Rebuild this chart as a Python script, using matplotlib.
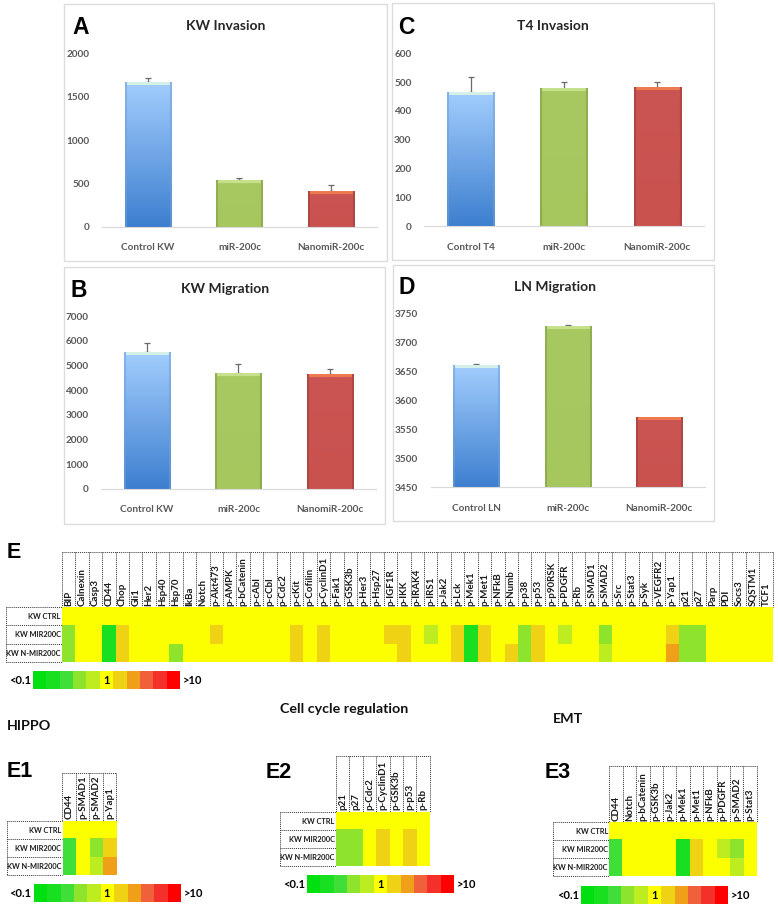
import matplotlib
matplotlib.use("Agg")
import matplotlib.pyplot as plt
import numpy as np
from matplotlib.colors import ListedColormap, to_rgb
from matplotlib.patches import Rectangle

W, H = 778, 905

bar_groups = ["miR-200c", "NanomiR-200c"]

kw_inv = [1665, 540, 415]
kw_inv_top = [1720, 560, 480]
t4_inv = [465, 477, 480]
t4_inv_top = [517, 502, 499]
kw_mig = [5550, 4680, 4640]
kw_mig_top = [5890, 5070, 4840]
ln_mig = [3661, 3729, 3570]
ln_mig_top = [3662.5, 3730.5, 3570.5]

all_proteins = ["BIP", "Calnexin", "Casp3", "CD44", "Chop", "Gli1", "Her2", "Hsp40", "Hsp70", "IkBa",
                "Notch", "p-Akt473", "p-AMPK", "p-bCatenin", "p-cAbl", "p-cCbl", "p-Cdc2", "p-cKit",
                "p-Cofilin", "p-CyclinD1", "p-Fak1", "p-GSK3b", "p-Her3", "p-Hsp27", "p-IGF1R", "p-IKK",
                "p-IRAK4", "p-IRS1", "p-Jak2", "p-Lck", "p-Mek1", "p-Met1", "p-NFkB", "p-Numb", "p-p38",
                "p-p53", "p-p90RSK", "p-PDGFR", "p-Rb", "p-SMAD1", "p-SMAD2", "p-Src", "p-Stat3", "p-Syk",
                "p-VEGFR2", "p-Yap1", "p21", "p27", "Parp", "PDI", "Socs3", "SQSTM1", "TCF1"]
conditions = ["KW CTRL", "KW MIR200C", "KW N-MIR200C"]

# colour bin of each cell, -5 (<0.1) .. 0 (1) .. 5 (>10)
all_ctrl = [0] * 53
all_mir = [-2, 0, 0, -4, 1, 0, 0, 0, 0, 0, 0, 1, 0, 0, 0, 0, 0, 1, 0, 1, 0, 0, 0, 0, 1, 1,
           0, -1, 0, 1, -4, 1, 0, 0, -2, 1, 0, -1, 0, 0, -2, 0, 0, 0, 0, 1, -2, -2, 0, 0, 0, 0, 0]
all_nmir = [-2, 0, 0, -4, 1, 0, 0, 0, -2, 0, 0, 0, 0, 0, 0, 0, 0, 1, 0, 1, 0, 0, 0, 0, 0, 1,
            0, 0, 0, 1, -4, 1, 0, 1, -2, 1, 0, 0, 0, 0, -1, 0, 0, 0, 0, 2, -2, -2, 0, 0, 0, 0, 0]

hippo_proteins = ["CD44", "p-SMAD1", "p-SMAD2", "p-Yap1"]
hippo_ctrl = [0, 0, 0, 0]
hippo_mir = [-3, 0, -2, 1]
hippo_nmir = [-3, 0, -1, 2]

cycle_proteins = ["p21", "p27", "p-Cdc2", "p-CyclinD1", "p-GSK3b", "p-p53", "p-Rb"]
cycle_ctrl = [0, 0, 0, 0, 0, 0, 0]
cycle_mir = [-2, -2, 0, 1, 0, 1, 0]
cycle_nmir = [-2, -2, 0, 1, 0, 1, 0]

emt_proteins = ["CD44", "Notch", "p-bCatenin", "p-GSK3b", "p-Jak2", "p-Mek1", "p-Met1", "p-NFkB",
                "p-PDGFR", "p-SMAD2", "p-Stat3"]
emt_ctrl = [0] * 11
emt_mir = [-3, 0, 0, 0, 0, -4, 1, 0, -1, -2, 0]
emt_nmir = [-3, 0, 0, 0, 0, -4, 1, 0, 0, -1, 0]

scale_bins = [-5, -4, -3, -2, -1, 0, 1, 2, 3, 4, 5]

cmap = ListedColormap(["#00e010", "#18e020", "#40de38", "#8ee42c", "#bdec20", "#fbff00",
                       "#f0d214", "#f0a018", "#f0603a", "#f4302a", "#ff0000"])

NARROW = ["Lato", "DejaVu Sans"]
CHART = ["Lato", "DejaVu Sans"]
LETTER = ["Liberation Sans", "DejaVu Sans"]

fig = plt.figure(figsize=(W / 100, H / 100), dpi=100, facecolor="white")

# pixel canvas for frames, panel letters and headings
bg = fig.add_axes([0, 0, 1, 1])
bg.set_xlim(0, W)
bg.set_ylim(H, 0)
bg.axis("off")


def axes_px(x0, y0, x1, y1):
    return fig.add_axes([x0 / W, 1 - y1 / H, (x1 - x0) / W, (y1 - y0) / H], facecolor="none")


def bevel_bar(ax, patch, top, bottom, cap, edge):
    # one image per bar: vertical gradient, darker sides, light strip on top
    x0, x1 = patch.get_x(), patch.get_x() + patch.get_width()
    y1 = patch.get_height() + patch.get_y()
    y0 = patch.get_y()
    ymin, ymax = ax.get_ylim()
    px_h = max(int(173 * (y1 - y0) / (ymax - ymin)), 4)
    px_w = 46
    t = np.linspace(0, 1, px_h)[:, None, None]
    img = (1 - t) * np.array(to_rgb(top)) + t * np.array(to_rgb(bottom))
    img = np.repeat(img, px_w, axis=1)
    for i in range(2):
        img[:, i] = img[:, i] * 0.45 + np.array(to_rgb(edge)) * 0.55
        img[:, -1 - i] = img[:, -1 - i] * 0.45 + np.array(to_rgb(edge)) * 0.55
    img[0:3, 2:-2] = to_rgb(cap)
    ax.imshow(img, extent=(x0, x1, y0, y1), aspect="auto", zorder=2, interpolation="bilinear")


def bar_panel(frame, box, letter, letter_xy, title, title_xy, first, vals, tops, ylim, step):
    fx0, fy0, fx1, fy1 = frame
    bg.add_patch(Rectangle((fx0, fy0), fx1 - fx0, fy1 - fy0, fc="white", ec="#dcdcdc", lw=1))
    bg.text(letter_xy[0], letter_xy[1], letter, fontsize=16.5, fontweight="bold", color="black",
            family=LETTER, ha="left", va="center")
    bg.text(title_xy[0], title_xy[1], title, fontsize=10, fontweight="bold", color="#262626",
            family=NARROW, ha="center", va="center")

    ax = axes_px(*box)
    names = [first] + bar_groups
    x = np.arange(3)
    ax.set_xlim(-0.5, 2.5)
    ax.set_ylim(*ylim)
    bars = ax.bar(x, np.array(vals) - ylim[0], bottom=ylim[0], width=0.505, color="none")
    styles = [("#a2cdfd", "#3d7fcf", "#d5f0e8", "#6f9fd8"),
              ("#a8c962", "#a6c65e", "#c6e08c", "#7d9a42"),
              ("#cb5552", "#c9524f", "#ee7a50", "#9c3c3a")]
    for b, s in zip(bars, styles):
        bevel_bar(ax, b, *s)
    ax.set_xlim(-0.5, 2.5)
    ax.set_ylim(*ylim)
    # upper whisker only, the lower cap stays hidden behind the bar
    ax.errorbar(x, vals, yerr=[np.zeros(3), np.array(tops) - np.array(vals)], fmt="none",
                ecolor="#6a6a6a", elinewidth=0.9, capsize=2, capthick=0.9, zorder=1)
    ax.set_xticks(x, names)
    ax.set_yticks(np.arange(ylim[0], ylim[1] + 1, step))
    ax.tick_params(length=0, labelsize=7.2, labelcolor="#595959", pad=9)
    ax.tick_params(axis="x", pad=12)
    for lab in ax.get_xticklabels() + ax.get_yticklabels():
        lab.set_family(CHART)
        lab.set_fontweight("bold")
    for side in ["top", "right", "left"]:
        ax.spines[side].set_visible(False)
    ax.spines["bottom"].set_color("#d9d9d9")
    return ax


def heat_panel(x0, y_box, y0, x_row, names, rows, font=7):
    n = len(names)
    cw = 13.41
    rh = 18.1
    x1 = x0 + n * cw
    y1 = y0 + 3 * rh
    ax = axes_px(x0, y0, x1, y1)
    ax.imshow(np.array(rows), cmap=cmap, vmin=-5.5, vmax=5.5, aspect="auto", interpolation="nearest")
    ax.xaxis.tick_top()
    ax.set_xticks(np.arange(n), names, rotation=90, fontsize=font, fontweight="bold", family=NARROW, color="#1a1a1a")
    ax.set_yticks(np.arange(3), conditions, fontsize=5.3, fontweight="bold", family=NARROW, color="#1a1a1a")
    ax.tick_params(length=0, pad=1)
    for s in ax.spines.values():
        s.set_visible(False)
    dots = dict(color="#333333", lw=0.7, ls=(0, (1, 1)))
    for i in range(n + 1):
        bg.plot([x0 + i * cw] * 2, [y_box, y0], **dots)
    bg.plot([x0, x1], [y_box, y_box], **dots)
    for j in range(4):
        bg.plot([x_row, x0], [y0 + j * rh] * 2, **dots)
    bg.plot([x_row, x_row], [y0, y1], **dots)


def scale_bar(x0, y0):
    x1, y1 = x0 + 147, y0 + 18
    ax = axes_px(x0, y0, x1, y1)
    ax.imshow([scale_bins], cmap=cmap, vmin=-5.5, vmax=5.5, aspect="auto", interpolation="nearest")
    ax.set_xticks([])
    ax.set_yticks([])
    for s in ax.spines.values():
        s.set_visible(False)
    ax.text(scale_bins.index(0), 0, "1", ha="center", va="center", fontsize=8, fontweight="bold", family=NARROW)
    bg.text(x0 - 2, y0 + 9.5, "<0.1", ha="right", va="center", fontsize=8, fontweight="bold", family=NARROW)
    bg.text(x1 + 3, y0 + 9.5, ">10", ha="left", va="center", fontsize=8, fontweight="bold", family=NARROW)


bar_panel((64, 4, 387, 261), (102, 53.3, 377, 226.7), "A", (72, 27), "KW Invasion", (225.5, 26),
          "Control KW", kw_inv, kw_inv_top, (0, 2000), 500)
bar_panel((392, 3, 714, 260), (424, 53.3, 704, 226), "C", (398, 27), "T4 Invasion", (553, 26),
          "Control T4", t4_inv, t4_inv_top, (0, 600), 100)
bar_panel((64, 267, 385.5, 524), (101, 316, 376, 488.7), "B", (71, 290), "KW Migration", (225, 289),
          "Control KW", kw_mig, kw_mig_top, (0, 7000), 1000)
bar_panel((393, 265, 714, 521), (430.7, 314, 705, 487), "D", (399, 287), "LN Migration", (555, 287),
          "Control LN", ln_mig, ln_mig_top, (3450, 3750), 50)

heat_panel(62, 551.7, 607.3, 6, all_proteins, [all_ctrl, all_mir, all_nmir])
scale_bar(33, 671)

heat_panel(62.5, 772.7, 820.7, 7, hippo_proteins, [hippo_ctrl, hippo_mir, hippo_nmir])
scale_bar(33.5, 884)

heat_panel(336, 756, 811.7, 280, cycle_proteins, [cycle_ctrl, cycle_mir, cycle_nmir])
scale_bar(307, 875)

heat_panel(609.3, 766, 822, 553.3, emt_proteins, [emt_ctrl, emt_mir, emt_nmir])
scale_bar(581, 886)

for x, y, s in [(7, 552, "E"), (7, 771, "E1"), (266, 772, "E2"), (545, 772, "E3")]:
    bg.text(x, y, s, fontsize=15.5, fontweight="bold", family=LETTER, ha="left", va="center")

for x, y, s in [(7, 726, "HIPPO"), (280, 709, "Cell cycle regulation"), (553, 719, "EMT")]:
    bg.text(x, y, s, fontsize=10.3, fontweight="bold", family=NARROW, color="#111111", ha="left", va="center")

bg.set_xlim(0, W)
bg.set_ylim(H, 0)

fig.savefig("out.png", dpi=100)
